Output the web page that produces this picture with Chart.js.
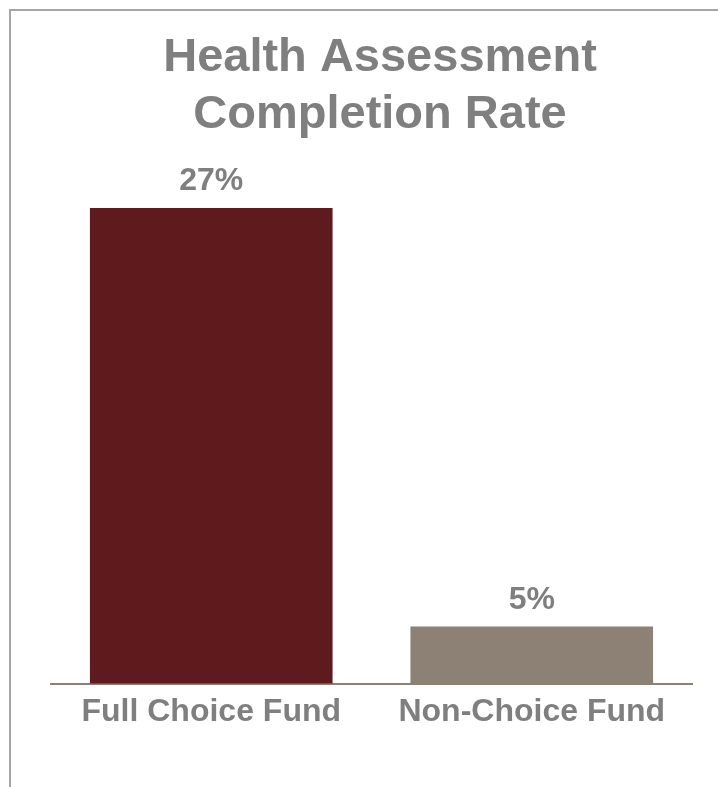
<!DOCTYPE html>
<html>
<head>
<meta charset="utf-8">
<title>Health Assessment Completion Rate</title>
<script src="https://cdn.jsdelivr.net/npm/chart.js@4/dist/chart.umd.min.js"></script>
<style>
  html, body { margin: 0; padding: 0; background: #fff; overflow: hidden; }
  #frame {
    position: absolute; left: 9px; top: 9px;
    width: 760px; height: 820px;
    border-left: 2px solid #a6a6a6;
    border-top: 2px solid #a6a6a6;
  }
  #chart { position: absolute; left: 0; top: 0; }
</style>
</head>
<body>
<div id="frame">
  <canvas id="chart" width="740" height="790"></canvas>
</div>
<script>
var categorias = ["Full Choice Fund", "Non-Choice Fund"];
var taxas = [27, 5];
var cores = ["#5e1a1c", "#8d8074"];
var titulo = ["Health Assessment", "Completion Rate"];

var fonte = '"Liberation Sans", Arial, sans-serif';
var cinza = '#7f7f7f';

// rótulos de valor acima de cada barra
var rotulosPlugin = {
    id: 'rotulos',
    afterDatasetsDraw: function(chart) {
        var ctx = chart.ctx;
        var meta = chart.getDatasetMeta(0);
        ctx.save();
        ctx.font = 'bold 32px ' + fonte;
        ctx.fillStyle = cinza;
        ctx.textAlign = 'center';
        ctx.textBaseline = 'alphabetic';
        meta.data.forEach(function(bar, i) {
            ctx.fillText(taxas[i] + '%', bar.x, bar.y - 18);
        });
        ctx.restore();
    }
};

function barchart() {
    var ctx = document.getElementById('chart').getContext('2d');
    var chart = new Chart(ctx, {
        type: 'bar',
        data: {
            labels: categorias,
            datasets: [{
                data: taxas,
                backgroundColor: cores,
                borderWidth: 0,
                categoryPercentage: 1,
                barPercentage: 0.757
            }]
        },
        options: {
            responsive: false,
            animation: false,
            layout: {
                padding: { left: 40, right: 42, top: 19, bottom: 61 }
            },
            plugins: {
                legend: { display: false },
                tooltip: { enabled: false },
                title: {
                    display: true,
                    text: titulo,
                    color: cinza,
                    font: { family: fonte, size: 47, weight: 'bold', lineHeight: 1.2 },
                    padding: { top: 0, bottom: 8 }
                }
            },
            scales: {
                x: {
                    grid: { display: false, drawTicks: false },
                    border: { display: true, color: '#8d8074', width: 2 },
                    ticks: {
                        color: cinza,
                        padding: 9,
                        font: { family: fonte, size: 32, weight: 'bold' }
                    }
                },
                y: {
                    // eixo invisível à direita, só reserva espaço
                    position: 'right',
                    min: 2,
                    max: 30,
                    grid: { display: false },
                    border: { display: false },
                    ticks: { display: false },
                    afterFit: function(scale) { scale.width = 17; }
                }
            }
        },
        plugins: [rotulosPlugin]
    });
}

barchart();
</script>
</body>
</html>
